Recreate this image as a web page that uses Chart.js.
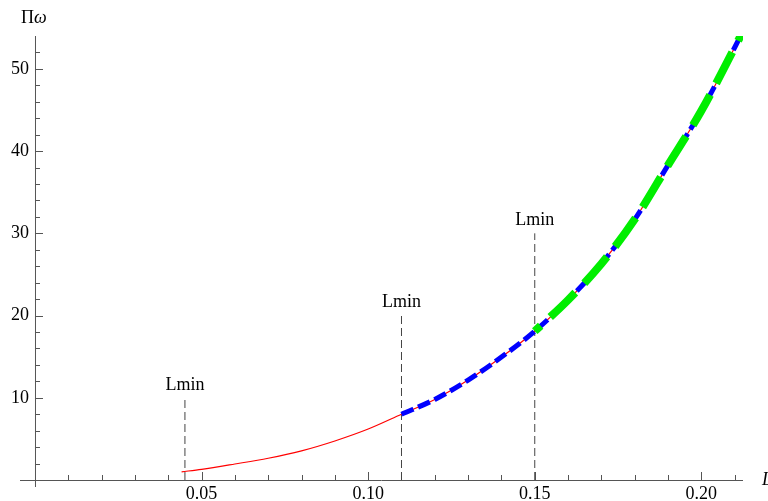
<!DOCTYPE html>
<html>
<head>
<meta charset="utf-8">
<script src="https://cdn.jsdelivr.net/npm/chart.js@4.4.0/dist/chart.umd.min.js"></script>
<style>
  html, body { margin: 0; padding: 0; background: #fff; }
  #wrap { width: 768px; height: 501px; }
</style>
</head>
<body>
<div id="wrap"><canvas id="chart" width="768" height="501"></canvas></div>
<script>
// Curve (L against Πω)
const curveL = [0.044, 0.05, 0.06, 0.07, 0.08, 0.09, 0.10, 0.11, 0.12, 0.13, 0.14, 0.15, 0.16, 0.17, 0.18, 0.19, 0.20, 0.21, 0.2125];
const curveP = [1.0, 1.3, 1.95, 2.65, 3.55, 4.75, 6.2, 8.0, 9.8, 12.15, 14.95, 18.1, 21.9, 26.3, 31.7, 38.3, 44.9, 52.6, 54.6];

// Where the blue and green pieces start
const blueFrom = 0.11;
const greenFrom = 0.15;

// Lmin markers
const lminX = [0.045, 0.11, 0.15];
const lminTop = [10, 20, 30];
const lminText = 'Lmin';

// Axes
const xMin = -0.0045, xMax = 0.2125;
const yMin = -0.85, yMax = 54;
const xMajor = [0.05, 0.10, 0.15, 0.20];
const xMajorLabels = ['0.05', '0.10', '0.15', '0.20'];
const xMinor = [0.01, 0.02, 0.03, 0.04, 0.06, 0.07, 0.08, 0.09, 0.11, 0.12, 0.13, 0.14, 0.16, 0.17, 0.18, 0.19, 0.21];
const yMajor = [10, 20, 30, 40, 50];
const yMajorLabels = ['10', '20', '30', '40', '50'];
const yMinor = [2, 4, 6, 8, 12, 14, 16, 18, 22, 24, 26, 28, 32, 34, 36, 38, 42, 44, 46, 48, 52];

const FONT = '"Liberation Serif", "DejaVu Serif", serif';

// Build point lists for the library
function pts(from) {
    const out = [];
    curveL.forEach((l, i) => { if (l >= from - 1e-9) out.push({ x: l, y: curveP[i] }); });
    return out;
}
const lminSets = lminX.map((x, i) => ({
    data: [{ x: x, y: 0 }, { x: x, y: lminTop[i] }],
    borderColor: '#444',
    borderWidth: 1,
    borderDash: [8, 4],
    pointRadius: 0,
    order: 5
}));

// Axes, ticks and texts drawn with the chart's scales
const axesPlugin = {
    id: 'mathAxes',
    beforeDatasetsDraw(chart) {
        const ctx = chart.ctx;
        const xs = chart.scales.x, ys = chart.scales.y;
        const x0 = xs.getPixelForValue(0), y0 = ys.getPixelForValue(0);
        const a = chart.chartArea;
        ctx.save();
        ctx.strokeStyle = '#555';
        ctx.lineWidth = 1;
        ctx.beginPath();
        ctx.moveTo(a.left, y0 + 0.5); ctx.lineTo(a.right, y0 + 0.5);
        ctx.moveTo(x0 + 0.5, a.top); ctx.lineTo(x0 + 0.5, a.bottom);
        xMajor.forEach(v => { const p = Math.round(xs.getPixelForValue(v)) + 0.5; ctx.moveTo(p, y0); ctx.lineTo(p, y0 - 8); });
        xMinor.forEach(v => { const p = Math.round(xs.getPixelForValue(v)) + 0.5; ctx.moveTo(p, y0); ctx.lineTo(p, y0 - 5); });
        yMajor.forEach(v => { const p = Math.round(ys.getPixelForValue(v)) + 0.5; ctx.moveTo(x0, p); ctx.lineTo(x0 + 8, p); });
        yMinor.forEach(v => { const p = Math.round(ys.getPixelForValue(v)) + 0.5; ctx.moveTo(x0, p); ctx.lineTo(x0 + 5, p); });
        ctx.stroke();

        ctx.fillStyle = '#000';
        ctx.font = '18px ' + FONT;
        ctx.textAlign = 'center';
        ctx.textBaseline = 'middle';
        xMajor.forEach((v, i) => ctx.fillText(xMajorLabels[i], xs.getPixelForValue(v), y0 + 14));
        ctx.textAlign = 'right';
        yMajor.forEach((v, i) => ctx.fillText(yMajorLabels[i], x0 - 6, ys.getPixelForValue(v)));

        // Lmin labels above the marker lines
        ctx.textAlign = 'center';
        ctx.textBaseline = 'bottom';
        lminX.forEach((v, i) => ctx.fillText(lminText, xs.getPixelForValue(v), ys.getPixelForValue(lminTop[i]) - 4));

        // axis labels
        ctx.textAlign = 'left';
        ctx.textBaseline = 'middle';
        ctx.fillText('Π', x0 - 14, 18);
        const w = ctx.measureText('Π').width;
        ctx.font = 'italic 18px ' + FONT;
        ctx.fillText('ω', x0 - 14 + w, 18);
        ctx.fillText('L', a.right + 19, y0);
        ctx.restore();
    }
};

const ctx = document.getElementById('chart').getContext('2d');
new Chart(ctx, {
    type: 'line',
    data: {
        datasets: [
            {
                data: pts(greenFrom),
                borderColor: '#00ee00',
                borderWidth: 8,
                borderDash: [35, 13],
                borderDashOffset: 27,
                pointRadius: 0,
                cubicInterpolationMode: 'monotone',
                order: 1
            },
            {
                data: pts(blueFrom),
                borderColor: '#0000ff',
                borderWidth: 5,
                borderDash: [13, 5],
                pointRadius: 0,
                cubicInterpolationMode: 'monotone',
                order: 2
            },
            {
                data: pts(0),
                borderColor: '#ff0000',
                borderWidth: 1.2,
                pointRadius: 0,
                cubicInterpolationMode: 'monotone',
                order: 3
            },
            ...lminSets
        ]
    },
    options: {
        responsive: false,
        animation: false,
        layout: { padding: { left: 20, right: 25, top: 36, bottom: 14 } },
        plugins: { legend: { display: false }, tooltip: { enabled: false } },
        scales: {
            x: { type: 'linear', min: xMin, max: xMax, display: false },
            y: { type: 'linear', min: yMin, max: yMax, display: false }
        }
    },
    plugins: [axesPlugin]
});
</script>
</body>
</html>
